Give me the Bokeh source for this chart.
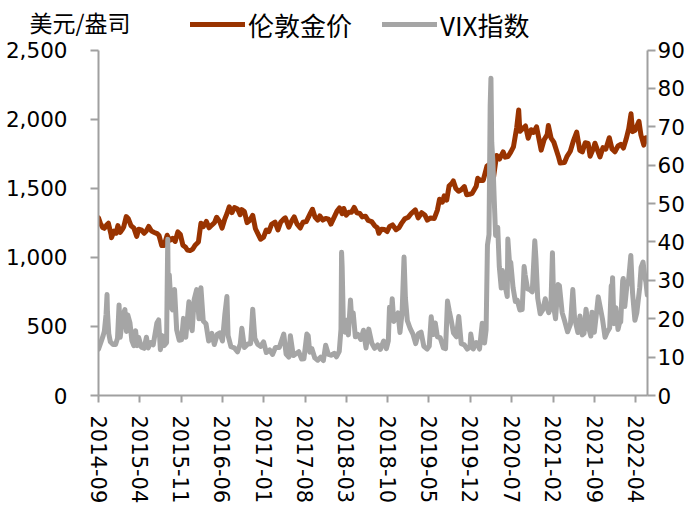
import pandas as pd
from bokeh.plotting import figure
from bokeh.models import (Range1d, LinearAxis, DatetimeAxis, FixedTicker, DatetimeTickFormatter,
                          NumeralTickFormatter, Legend, LegendItem)
from bokeh.embed import file_html
from bokeh.resources import INLINE

# ---------------- data ----------------
gold_dates = [
    "2014-09-01","2014-09-10","2014-09-22","2014-10-01","2014-10-15","2014-10-22","2014-11-05","2014-11-07",
    "2014-11-20","2014-12-01","2014-12-10","2014-12-22","2014-12-31","2015-01-09","2015-01-22","2015-02-02",
    "2015-02-16","2015-03-02","2015-03-17","2015-03-27","2015-04-10","2015-04-24","2015-05-05","2015-05-18",
    "2015-06-01","2015-06-16","2015-06-30","2015-07-10","2015-07-24","2015-08-05","2015-08-21","2015-09-03",
    "2015-09-18","2015-10-01","2015-10-15","2015-10-28","2015-11-10","2015-11-24","2015-12-03","2015-12-17",
    "2015-12-31","2016-01-12","2016-01-29","2016-02-11","2016-02-23","2016-03-10","2016-03-24","2016-04-07",
    "2016-04-21","2016-05-02","2016-05-18","2016-05-30","2016-06-13","2016-06-24","2016-07-06","2016-07-20",
    "2016-08-02","2016-08-18","2016-08-31","2016-09-08","2016-09-22","2016-10-06","2016-10-20","2016-11-04",
    "2016-11-18","2016-12-01","2016-12-15","2016-12-30","2017-01-13","2017-01-26","2017-02-09","2017-02-27",
    "2017-03-14","2017-03-28","2017-04-12","2017-04-21","2017-05-09","2017-05-23","2017-06-06","2017-06-20",
    "2017-07-07","2017-07-21","2017-08-07","2017-08-29","2017-09-08","2017-09-21","2017-10-05","2017-10-16",
    "2017-10-31","2017-11-15","2017-11-30","2017-12-12","2017-12-29","2018-01-12","2018-01-25","2018-02-08",
    "2018-02-16","2018-03-01","2018-03-14","2018-03-28","2018-04-11","2018-04-25","2018-05-10","2018-05-23",
    "2018-06-08","2018-06-22","2018-07-10","2018-07-25","2018-08-08","2018-08-16","2018-08-30","2018-09-14",
    "2018-09-28","2018-10-11","2018-10-26","2018-11-13","2018-11-28","2018-12-11","2018-12-28","2019-01-15",
    "2019-01-31","2019-02-20","2019-03-07","2019-03-25","2019-04-10","2019-04-23","2019-05-10","2019-05-29",
    "2019-06-14","2019-06-25","2019-07-10","2019-07-19","2019-08-01","2019-08-13","2019-08-29","2019-09-04",
    "2019-09-17","2019-10-01","2019-10-15","2019-10-31","2019-11-12","2019-11-26","2019-12-10","2019-12-31",
    "2020-01-08","2020-01-22","2020-02-05","2020-02-24","2020-03-09","2020-03-19","2020-03-31","2020-04-14",
    "2020-04-29","2020-05-18","2020-05-29","2020-06-12","2020-06-26","2020-07-10","2020-07-27","2020-08-06",
    "2020-08-12","2020-08-25","2020-09-10","2020-09-24","2020-10-09","2020-10-22","2020-11-06","2020-11-30",
    "2020-12-15","2020-12-31","2021-01-06","2021-01-20","2021-02-03","2021-02-26","2021-03-08","2021-03-30",
    "2021-04-13","2021-04-29","2021-05-14","2021-06-01","2021-06-17","2021-06-30","2021-07-15","2021-07-30",
    "2021-08-09","2021-08-27","2021-09-03","2021-09-29","2021-10-14","2021-10-29","2021-11-16","2021-11-30",
    "2021-12-15","2021-12-31","2022-01-14","2022-01-28","2022-02-11","2022-02-24","2022-03-08","2022-03-16",
    "2022-03-29","2022-04-18","2022-04-28","2022-05-13","2022-05-24","2022-05-31",
]
gold_price = [
    1287,1250,1216,1210,1238,1247,1164,1142,
    1190,1175,1230,1181,1199,1220,1295,1279,
    1228,1213,1152,1203,1199,1174,1190,1224,
    1190,1180,1172,1158,1085,1086,1160,1123,
    1138,1115,1184,1165,1088,1073,1053,1049,
    1060,1088,1111,1247,1222,1260,1214,1234,
    1251,1290,1258,1212,1278,1315,1366,1324,
    1360,1350,1309,1346,1332,1251,1268,1304,
    1207,1170,1131,1146,1198,1187,1239,1255,
    1199,1254,1277,1286,1218,1261,1293,1242,
    1212,1254,1259,1322,1348,1292,1270,1300,
    1270,1282,1276,1241,1291,1333,1358,1316,
    1354,1305,1326,1326,1362,1322,1317,1293,
    1298,1267,1259,1230,1214,1174,1204,1201,
    1187,1224,1235,1200,1215,1246,1279,1291,
    1319,1343,1286,1323,1307,1270,1285,1282,
    1342,1420,1400,1445,1414,1516,1539,1553,
    1498,1478,1489,1512,1453,1456,1463,1515,
    1572,1556,1557,1659,1675,1474,1596,1738,
    1712,1763,1725,1730,1762,1800,1941,2067,
    1912,1930,1951,1862,1924,1904,1945,1776,
    1851,1888,1954,1863,1834,1734,1683,1686,
    1733,1768,1839,1907,1774,1763,1830,1825,
    1732,1792,1826,1727,1794,1783,1866,1785,
    1764,1806,1818,1791,1856,1930,2039,1910,
    1920,1985,1887,1812,1866,1842,
]

vix_dates = [
    "2014-09-01","2014-09-15","2014-09-25","2014-10-01","2014-10-10","2014-10-15","2014-10-17","2014-10-24",
    "2014-11-01","2014-11-15","2014-11-28","2014-12-08","2014-12-16","2014-12-22","2014-12-31","2015-01-06",
    "2015-01-15","2015-01-23","2015-01-30","2015-02-10","2015-02-20","2015-03-02","2015-03-11","2015-03-20",
    "2015-03-27","2015-04-10","2015-04-24","2015-05-06","2015-05-15","2015-05-29","2015-06-10","2015-06-29",
    "2015-07-08","2015-07-17","2015-07-27","2015-08-05","2015-08-18","2015-08-21","2015-08-24","2015-08-26",
    "2015-09-01","2015-09-10","2015-09-18","2015-09-28","2015-10-09","2015-10-22","2015-11-03","2015-11-13",
    "2015-11-25","2015-12-11","2015-12-17","2015-12-28","2016-01-07","2016-01-20","2016-02-01","2016-02-11",
    "2016-02-23","2016-03-08","2016-03-22","2016-04-07","2016-04-20","2016-05-05","2016-05-18","2016-06-01",
    "2016-06-13","2016-06-24","2016-06-30","2016-07-15","2016-08-01","2016-08-18","2016-09-01","2016-09-09",
    "2016-09-22","2016-10-10","2016-10-24","2016-11-04","2016-11-15","2016-11-30","2016-12-15","2016-12-30",
    "2017-01-13","2017-01-30","2017-02-14","2017-03-01","2017-03-21","2017-04-13","2017-04-25","2017-05-09",
    "2017-05-17","2017-06-01","2017-06-15","2017-06-29","2017-07-14","2017-07-26","2017-08-10","2017-08-17",
    "2017-08-25","2017-09-05","2017-09-20","2017-10-05","2017-10-20","2017-11-03","2017-11-15","2017-11-29",
    "2017-12-15","2017-12-29","2018-01-10","2018-01-24","2018-02-02","2018-02-05","2018-02-08","2018-02-14",
    "2018-02-23","2018-03-02","2018-03-12","2018-03-23","2018-03-29","2018-04-06","2018-04-17","2018-04-30",
    "2018-05-15","2018-05-29","2018-06-11","2018-06-25","2018-07-11","2018-07-25","2018-08-10","2018-08-24",
    "2018-09-10","2018-09-24","2018-10-04","2018-10-10","2018-10-18","2018-10-24","2018-11-01","2018-11-12",
    "2018-11-23","2018-12-03","2018-12-14","2018-12-24","2018-12-31","2019-01-10","2019-01-25","2019-02-08",
    "2019-02-22","2019-03-08","2019-03-22","2019-04-05","2019-04-22","2019-05-03","2019-05-13","2019-05-24",
    "2019-06-03","2019-06-14","2019-06-28","2019-07-15","2019-07-26","2019-08-05","2019-08-14","2019-08-23",
    "2019-09-05","2019-09-20","2019-10-02","2019-10-15","2019-10-31","2019-11-15","2019-11-29","2019-12-03",
    "2019-12-16","2019-12-31","2020-01-08","2020-01-17","2020-01-31","2020-02-12","2020-02-20","2020-02-27",
    "2020-03-06","2020-03-12","2020-03-16","2020-03-20","2020-03-26","2020-04-02","2020-04-09","2020-04-20",
    "2020-04-28","2020-05-08","2020-05-14","2020-05-28","2020-06-08","2020-06-11","2020-06-19","2020-06-26",
    "2020-07-08","2020-07-20","2020-07-30","2020-08-12","2020-08-24","2020-09-03","2020-09-08","2020-09-21",
    "2020-10-02","2020-10-15","2020-10-28","2020-11-03","2020-11-12","2020-11-25","2020-12-08","2020-12-21",
    "2020-12-31","2021-01-08","2021-01-19","2021-01-27","2021-02-03","2021-02-12","2021-02-25","2021-03-04",
    "2021-03-18","2021-03-31","2021-04-15","2021-04-30","2021-05-12","2021-05-21","2021-06-07","2021-06-18",
    "2021-06-30","2021-07-09","2021-07-19","2021-07-30","2021-08-13","2021-08-19","2021-08-31","2021-09-10",
    "2021-09-20","2021-09-30","2021-10-12","2021-10-25","2021-11-05","2021-11-18","2021-11-26","2021-11-30",
    "2021-12-03","2021-12-10","2021-12-20","2021-12-31","2022-01-07","2022-01-14","2022-01-24","2022-01-27",
    "2022-02-04","2022-02-14","2022-02-24","2022-03-07","2022-03-16","2022-03-28","2022-04-07","2022-04-22",
    "2022-04-29","2022-05-09","2022-05-18","2022-05-24","2022-05-31",
]
vix_index = [
    12.1,14.1,15.6,16.7,21.2,26.3,21.9,16.1,
    14.0,13.3,13.3,14.9,23.6,15.2,19.2,21.1,
    22.4,16.7,21.0,19.0,14.3,13.0,16.9,13.0,
    15.1,12.6,12.3,15.2,12.4,13.8,13.2,18.9,
    19.7,11.95,15.6,13.0,13.8,28.0,40.7,30.3,
    31.4,23.0,22.3,27.6,17.1,14.4,14.5,20.1,
    15.2,24.4,18.9,16.9,25.0,27.6,20.0,28.1,
    19.4,18.7,14.2,16.2,13.3,15.9,16.3,14.2,
    21.0,25.8,15.6,12.7,12.4,11.4,13.5,17.5,
    12.5,13.4,13.5,22.5,14.9,13.3,12.8,14.0,
    11.2,11.9,10.7,12.5,12.5,16.0,10.8,10.0,
    15.6,10.4,10.9,11.4,9.5,9.6,16.0,15.6,
    11.3,12.2,9.8,9.2,10.0,9.1,13.1,10.7,
    10.5,11.0,10.1,11.5,17.3,37.3,33.5,19.3,
    16.5,19.6,15.8,24.9,20.0,21.5,15.3,15.9,
    14.6,17.0,12.4,17.3,13.6,12.3,13.2,12.0,
    14.2,12.2,14.2,23.0,20.1,25.2,19.3,20.5,
    21.5,16.4,21.6,36.1,25.4,19.5,17.4,16.0,
    13.5,16.1,16.5,12.8,12.1,12.9,20.5,15.9,
    18.9,15.3,15.1,12.4,12.2,24.6,22.1,19.9,
    16.3,15.3,20.6,13.5,13.2,12.1,12.6,16.0,
    12.1,13.8,13.5,12.1,18.8,13.7,17.1,39.2,
    41.9,75.5,82.7,66.0,61.0,50.9,41.7,43.8,
    33.6,28.0,32.6,28.6,25.8,40.8,35.1,34.7,
    28.1,24.5,24.8,22.3,22.4,33.6,31.5,27.8,
    27.6,27.0,40.3,35.6,25.4,21.3,22.3,25.2,
    22.8,21.6,23.2,37.2,22.9,20.0,28.9,28.6,
    21.6,19.4,16.6,18.6,27.6,20.2,16.4,20.7,
    15.8,16.2,22.5,18.2,15.5,21.7,16.5,21.0,
    25.7,23.1,19.9,15.2,16.5,17.6,28.6,27.2,
    30.7,18.7,22.9,17.2,18.8,19.2,29.9,30.5,
    23.2,28.3,30.3,36.5,26.7,19.6,21.6,28.2,
    33.4,34.75,31.0,29.5,26.2,
]

x_tick_labels = ["2014-09","2015-04","2015-11","2016-06","2017-01","2017-08","2018-03",
                 "2018-10","2019-05","2019-12","2020-07","2021-02","2021-09","2022-04"]
x_start, x_end = "2014-09-01", "2022-06-01"
gold_ticks = [0, 500, 1000, 1500, 2000, 2500]
vix_ticks = [0, 10, 20, 30, 40, 50, 60, 70, 80, 90]

series_names = ["伦敦金价", "VIX指数"]
left_unit = "美元/盎司"

# ---------------- styles / layout ----------------
GOLD = "#993300"
GREY = "#A5A5A5"
AXIS = "#A0A0A0"
TICK_FONT = "DejaVu Sans"
CJK_FONT = "Noto Sans CJK SC"

W, H = 690, 506
LEFT, RIGHT, BOTTOM = 98, 43, 108
AXIS_TOP_PX = 50          # pixel row of the top of both value axes
UNIT_Y_PX = 22            # pixel row of the unit caption
LEGEND_Y_PX = 27          # pixel row of the legend centre
frame_h = H - BOTTOM      # the frame reaches the top edge of the canvas
span_px = frame_h - AXIS_TOP_PX
headroom = frame_h / span_px

gx = pd.to_datetime(gold_dates)
vx = pd.to_datetime(vix_dates)
tick_ms = [pd.Timestamp(t + "-01").value // 10**6 for t in x_tick_labels]

p = figure(width=W, height=H, x_axis_type=None, y_axis_type=None, title=None,
           x_range=Range1d(pd.Timestamp(x_start), pd.Timestamp(x_end)),
           y_range=Range1d(0, gold_ticks[-1] * headroom),
           output_backend="svg", toolbar_location=None,
           min_border_left=LEFT, min_border_right=RIGHT, min_border_top=0, min_border_bottom=BOTTOM)
p.extra_y_ranges = {"vix": Range1d(0, vix_ticks[-1] * headroom)}
p.outline_line_color = None
p.background_fill_color = "white"
p.border_fill_color = "white"


def style_axis(ax, size, font=TICK_FONT):
    ax.axis_label = None
    ax.axis_label_standoff = 0
    ax.axis_line_color = AXIS
    ax.axis_line_width = 2
    ax.major_tick_line_color = AXIS
    ax.major_tick_line_width = 2
    ax.major_tick_in = 0
    ax.major_tick_out = 8
    ax.minor_tick_line_color = None
    ax.major_label_text_font = font
    ax.major_label_text_font_size = size
    ax.major_label_text_color = "#000000"


xaxis = DatetimeAxis(ticker=FixedTicker(ticks=tick_ms))
fmt = "%Y-%m"
xaxis.formatter = DatetimeTickFormatter(microseconds=fmt, milliseconds=fmt, seconds=fmt, minsec=fmt,
                                        minutes=fmt, hourmin=fmt, hours=fmt, days=fmt, months=fmt, years=fmt)
style_axis(xaxis, "21px")
xaxis.major_tick_out = 7
xaxis.major_label_orientation = "vertical"
xaxis.major_label_standoff = 13
p.add_layout(xaxis, "below")

laxis = LinearAxis(ticker=FixedTicker(ticks=gold_ticks), formatter=NumeralTickFormatter(format="0,0"),
                   bounds=(gold_ticks[0], gold_ticks[-1]))
style_axis(laxis, "21.5px")
laxis.major_label_standoff = 23
p.add_layout(laxis, "left")

# unit caption, carried by an outer left axis that has a single labelled tick and no line
unit_value = round(gold_ticks[-1] * (frame_h - UNIT_Y_PX) / span_px)
uaxis = LinearAxis(ticker=FixedTicker(ticks=[unit_value]), major_label_overrides={unit_value: left_unit})
style_axis(uaxis, "23px", CJK_FONT)
uaxis.axis_line_color = None
uaxis.major_tick_line_color = None
uaxis.major_tick_out = 0
uaxis.major_label_standoff = -128
p.add_layout(uaxis, "left")

raxis = LinearAxis(y_range_name="vix", ticker=FixedTicker(ticks=vix_ticks),
                   bounds=(vix_ticks[0], vix_ticks[-1]))
style_axis(raxis, "21.5px")
raxis.major_label_standoff = 2
p.add_layout(raxis, "right")

r_gold = p.line(gx, gold_price, line_color=GOLD, line_width=5, line_join="round", line_cap="round")
r_vix = p.line(vx, vix_index, line_color=GREY, line_width=5, line_join="round", line_cap="round",
               y_range_name="vix")

legend_h = 26 * 1.45
legend = Legend(items=[LegendItem(label=series_names[0], renderers=[r_gold]),
                       LegendItem(label=series_names[1], renderers=[r_vix])],
                location=(92, frame_h - LEGEND_Y_PX - legend_h / 2), orientation="horizontal",
                label_text_font=CJK_FONT, label_text_font_size="26px", label_text_color="#000000",
                glyph_width=55, glyph_height=26, label_height=26, label_standoff=3, spacing=30,
                padding=0, margin=0, border_line_color=None, background_fill_alpha=0)
p.add_layout(legend, "center")

open("out.html", "w").write(file_html(p, INLINE))
